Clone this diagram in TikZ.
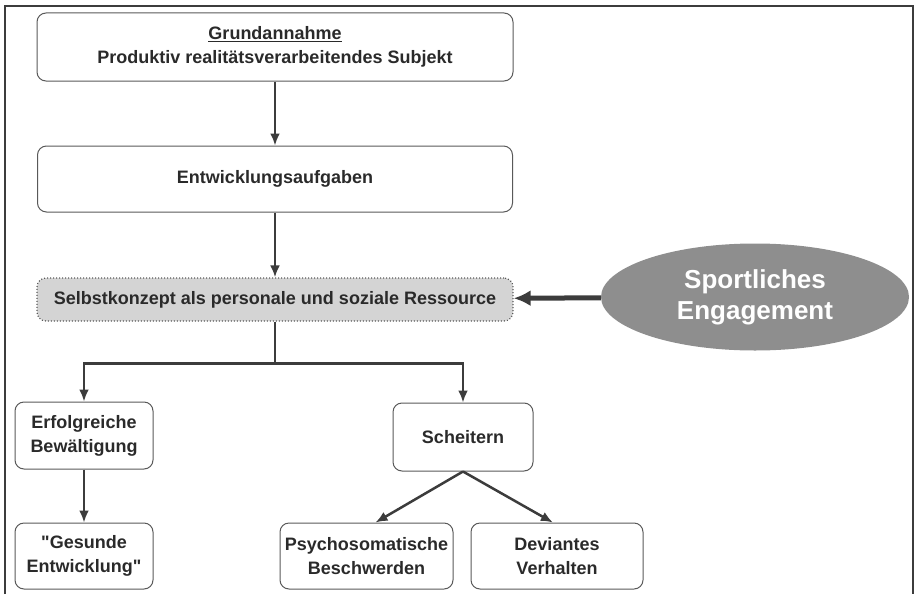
\documentclass[tikz,border=0pt]{standalone}
\usepackage{fontspec}
\setmainfont{Liberation Sans}
\usetikzlibrary{calc}
\usetikzlibrary{positioning}
\usetikzlibrary{shapes.geometric}
\usetikzlibrary{arrows.meta}
\definecolor{linegray}{HTML}{3C3C3C}
\definecolor{textgray}{HTML}{2A2A2A}
\definecolor{boxfill}{HTML}{D4D4D4}
\definecolor{ellfill}{HTML}{8E8E8E}
\tikzstyle{stage} = [draw=linegray!85, rounded corners=9pt, line width=1pt, align=center, text=textgray, font=\fontsize{18}{24}\selectfont\bfseries, inner sep=0]
\tikzstyle{resource} = [stage, fill=boxfill, dotted, line width=1.2pt]
\tikzstyle{flow} = [draw=linegray, line width=2.5pt, >={Latex[length=12pt,width=10pt]}, ->]

\begin{document}
\begin{tikzpicture}[x=1pt, y=-1pt]
    \useasboundingbox (0,0) rectangle (917,594);
    \draw[linegray, line width=1.3pt] (5,594) -- (5,6) -- (913,6) -- (913,594);

    \node[stage, minimum width=476, minimum height=68] (grund_box) at (275,47)
{\underline{Grundannahme}\\Produktiv realitätsverarbeitendes Subjekt};
    \node[stage, minimum width=475, minimum height=66] (entw_box) at ($(grund_box)+(0,132)$)
{Entwicklungsaufgaben};
    \node[resource, minimum width=476, minimum height=43] (selbst_box) at ($(entw_box)+(0,120.5)$)
{Selbstkonzept als personale und soziale Ressource};
    \draw[flow] (grund_box) -- (entw_box);
    \draw[flow] (entw_box) -- (selbst_box);

    \node[ellipse, fill=ellfill, minimum width=308, minimum height=107, inner sep=0, align=center,
text=white, font=\fontsize{26}{31}\selectfont\bfseries] (sport_ell) at ($(selbst_box)+(480,-2.5)$)
{Sportliches\\Engagement};
    \draw[flow, line width=5pt, >={Latex[length=17pt,width=16pt]}] (sport_ell) -- (selbst_box);

    \node[stage, minimum width=138, minimum height=67] (erfolg_box) at (84,435.5)
{Erfolgreiche\\Bewältigung};
    \node[stage, minimum width=140, minimum height=68] (scheit_box) at ($(erfolg_box)+(379,1.5)$)
{Scheitern};
    \coordinate (split) at ($(selbst_box.south)+(0,42)$);
    \draw[linegray, line width=2.5pt] (selbst_box) -- (split);
    \draw[flow] (split) -| (erfolg_box);
    \draw[flow] (split) -| (scheit_box);

    \node[stage, minimum width=138, minimum height=66] (gesund_box) at ($(erfolg_box)+(0,120.5)$)
{\textquotedbl Gesunde\\Entwicklung\textquotedbl};
    \node[stage, minimum width=173, minimum height=66] (psycho_box) at ($(scheit_box)+(-96.5,119)$)
{Psychosomatische\\Beschwerden};
    \node[stage, minimum width=172, minimum height=66] (devi_box) at ($(psycho_box)+(190.5,0)$)
{Deviantes\\Verhalten};
    \draw[flow] (erfolg_box) -- (gesund_box);
    \draw[flow] (scheit_box.south) -- (psycho_box.75);
    \draw[flow] (scheit_box.south) -- (devi_box.97);
\end{tikzpicture}
\end{document}
